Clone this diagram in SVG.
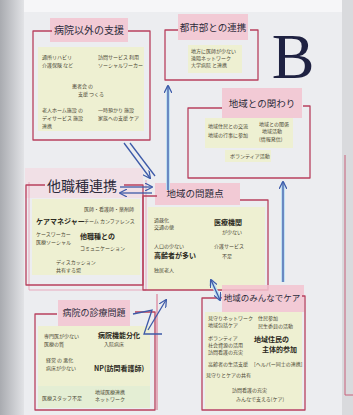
<svg xmlns="http://www.w3.org/2000/svg" width="353" height="415" viewBox="0 0 353 415">
<defs>
<linearGradient id="shade" x1="0" y1="0" x2="1" y2="0">
<stop offset="0" stop-color="#a9abb0"/>
<stop offset="1" stop-color="#e2e3e6"/>
</linearGradient>
<marker id="ah" viewBox="0 0 10 10" refX="9" refY="5" markerWidth="6" markerHeight="6" orient="auto-start-reverse">
<path d="M0,0 L10,5 L0,10" fill="none" stroke="#3d5aa8" stroke-width="1.6"/>
</marker>
<style>
.frame{fill:none;stroke:#b8405e;stroke-width:1.3;stroke-linejoin:round}
.frame2{fill:none;stroke:#e89ab0;stroke-width:1;opacity:.8}
.tag{fill:#f3c3d0;opacity:.85}
.note{fill:#eef0d2}
.note2{fill:#e4eed4}
.title{font-family:"Noto Sans CJK JP","Noto Sans",sans-serif;fill:#2c2a3a;text-anchor:middle}
.s{font-family:"Noto Sans CJK JP","Noto Sans",sans-serif;font-size:5px;fill:#4a4632}
.sb{font-family:"Noto Sans CJK JP","Noto Sans",sans-serif;font-size:7px;fill:#2a2820;font-weight:bold}
.con{fill:none;stroke:#3d5aa8;stroke-width:1.3}
.glow{fill:none;stroke:#bfe0f2;stroke-width:4}
</style>
</defs>
<rect width="353" height="415" fill="#e3e4e7"/>
<rect x="0" y="0" width="24" height="415" fill="url(#shade)"/>
<rect x="24" y="0" width="320" height="12" fill="#f6f6f8"/>
<rect x="24" y="12" width="318" height="403" fill="#ecedf0"/>
<rect x="342" y="0" width="11" height="415" fill="#d9dadd"/>
<path d="M345,155 L345,395 L353,395" fill="none" stroke="#c8607a" stroke-width="1"/>

<g id="node-byouin-igai">
<rect class="tag" x="50" y="18" width="78" height="24"/>
<rect class="note" x="38" y="47" width="106" height="84"/>
<path class="frame" d="M52,31 L33,31 L33,140 L150,140 L150,31 L128,31"/>
<text class="title" x="89" y="34" font-size="10">病院以外の支援</text>
<text class="s" x="42" y="59">通所リハビリ</text>
<text class="s" x="42" y="67">介護保険 など</text>
<text class="s" x="98" y="59">訪問サービス 利用</text>
<text class="s" x="98" y="67">ソーシャルワーカー</text>
<text class="s" x="72" y="88">患者会 の</text>
<text class="s" x="78" y="96">支援 つくる</text>
<text class="s" x="42" y="112">老人ホーム施設 の</text>
<text class="s" x="42" y="120">デイサービス 施設</text>
<text class="s" x="42" y="128">連携</text>
<text class="s" x="98" y="112">一時預かり 施設</text>
<text class="s" x="98" y="120">家族への支援 ケア</text>
</g>

<g id="node-toshibu">
<rect class="tag" x="178" y="14" width="70" height="26"/>
<rect class="note" x="188" y="45" width="54" height="28"/>
<path class="frame" d="M178,30 L165,30 L165,80 L258,80 L258,30 L250,30"/>
<text class="title" x="213" y="31" font-size="9.5">都市部との連携</text>
<text class="s" x="191" y="53">地方に医師が少ない</text>
<text class="s" x="191" y="60">遠隔ネットワーク</text>
<text class="s" x="191" y="67">大学病院 と連携</text>
</g>

<text x="293" y="78" font-family="Liberation Serif,serif" font-size="64" fill="#1f2242" text-anchor="middle">B</text>

<g id="node-chiiki-kakawari">
<rect class="tag" x="222" y="88" width="80" height="30"/>
<rect class="note" x="205" y="118" width="88" height="30"/>
<rect class="note" x="225" y="150" width="46" height="12"/>
<path class="frame" d="M222,108 L188,108 L188,178 L310,178 L310,106 L303,106"/>
<text class="title" x="262" y="107" font-size="9.5">地域との関わり</text>
<text class="s" x="208" y="128">地域住民との交流</text>
<text class="s" x="208" y="137" fill="#2a2820">地域の行事に参加</text>
<text class="s" x="259" y="126">地域との関係</text>
<text class="s" x="262" y="133">地域活動</text>
<text class="s" x="259" y="141">(情報発信)</text>
<text class="s" x="230" y="158">ボランティア活動</text>
</g>

<g id="node-tashokushu">
<rect x="25" y="168" width="118" height="30" fill="#f3dce3" opacity=".8"/>
<rect class="note" x="32" y="199" width="108" height="76"/>
<path class="frame2" d="M29,182 L29,290 L146,290 L146,180"/>
<path class="frame" d="M45,185 L26,185 L26,285 L143,285 L143,185 L124,185"/>
<text class="title" x="82" y="191" font-size="14">他職種連携</text>
<text class="s" x="84" y="211">医師・看護師・薬剤師</text>
<text class="sb" x="36" y="224" font-size="5.5">ケアマネジャー</text>
<text class="s" x="84" y="223">チーム カンファレンス</text>
<text class="s" x="36" y="236">ケースワーカー</text>
<text class="s" x="36" y="244">医療ソーシャル</text>
<text class="sb" x="80" y="239">他職種との</text>
<text class="s" x="80" y="250">コミュニケーション</text>
<text class="s" x="56" y="264">ディスカッション</text>
<text class="s" x="56" y="272">共有する場</text>
</g>

<g id="node-mondaiten">
<rect class="tag" x="155" y="183" width="85" height="22"/>
<rect class="note" x="148" y="207" width="117" height="83"/>
<path class="frame" d="M157,196 L143,196 L143,290 L268,290 L268,200 L240,200"/>
<text class="title" x="195" y="197" font-size="9.5">地域の問題点</text>
<text class="s" x="154" y="222">過疎化</text>
<text class="s" x="154" y="229">交通の便</text>
<text class="sb" x="214" y="225" font-size="6">医療機関</text>
<text class="s" x="222" y="234">が少ない</text>
<text class="s" x="154" y="248">人口の少ない</text>
<text class="sb" x="154" y="258" font-size="6">高齢者が多い</text>
<text class="s" x="214" y="248">介護サービス</text>
<text class="s" x="222" y="258">不足</text>
<text class="s" x="154" y="272">独居老人</text>
</g>

<g id="node-minna-care">
<rect class="tag" x="222" y="285" width="82" height="27"/>
<rect class="note" x="205" y="312" width="97" height="97"/>
<path class="frame" d="M222,298 L202,298 L202,410 L305,410 L305,296 L302,296"/>
<text class="title" x="262" y="301" font-size="8.5">地域のみんなでケア</text>
<text class="s" x="208" y="320">見守りネットワーク</text>
<text class="s" x="208" y="327">地域包括ケア</text>
<text class="s" x="258" y="320">住民参加</text>
<text class="s" x="258" y="328">民生委員の活動</text>
<text class="s" x="208" y="340">ボランティア</text>
<text class="s" x="208" y="347">社会資源の活用</text>
<text class="s" x="208" y="354">訪問看護の充実</text>
<text class="sb" x="254" y="342" font-size="6">地域住民の</text>
<text class="sb" x="262" y="352" font-size="6">主体的参加</text>
<text class="s" x="208" y="366">高齢者の生活支援</text>
<text class="s" x="254" y="366">[ヘルパー同士の連携]</text>
<text class="s" x="206" y="377">見守りとケアの共有</text>
<text class="s" x="232" y="392">訪問看護の充実</text>
<text class="s" x="236" y="401">みんなで支える(ケア)</text>
</g>

<g id="node-shinryou">
<rect class="tag" x="58" y="300" width="72" height="26"/>
<rect class="note" x="38" y="326" width="112" height="60"/>
<rect class="note2" x="38" y="386" width="112" height="22"/>
<path class="frame" d="M57,314 L35,314 L35,410 L155,410 L155,312 L135,312"/>
<path d="M157,294 L157,410" fill="none" stroke="#d86a88" stroke-width="1"/>
<text class="title" x="94" y="316" font-size="9">病院の診療問題</text>
<text class="s" x="44" y="338">専門医が少ない</text>
<text class="s" x="44" y="346">医療の質</text>
<text class="sb" x="98" y="338" font-size="5.5">病院機能分化</text>
<text class="s" x="104" y="346">入院病床</text>
<text class="s" x="46" y="362">経営 の 悪化</text>
<text class="s" x="46" y="370">病床が少ない</text>
<text class="sb" x="94" y="371" font-size="7.5">NP(訪問看護師)</text>
<text class="s" x="42" y="400">医療スタッフ不足</text>
<text class="s" x="95" y="394">地域医療連携</text>
<text class="s" x="95" y="401">ネットワーク</text>
</g>

<g id="connectors">
<path class="glow" d="M168,190 L168,86"/>
<path class="con" d="M168,190 L168,86" marker-end="url(#ah)"/>
<path class="glow" d="M283,282 L283,182"/>
<path class="con" d="M283,282 L283,182" marker-end="url(#ah)"/>
<path class="con" d="M124,143 L150,178" marker-end="url(#ah)"/>
<path class="con" d="M130,143 L155,176"/>
<path class="con" d="M120,187 L152,187" marker-end="url(#ah)"/>
<path class="con" d="M152,193 L120,193" marker-end="url(#ah)"/>
<path class="glow" d="M211,280 L220,300"/>
<path class="con" d="M211,280 L220,300" marker-start="url(#ah)" marker-end="url(#ah)"/>
<path class="con" d="M133,314 L152,310 L144,334 L162,334"/>
<path class="con" d="M148,330 L166,300" marker-end="url(#ah)"/>
</g>
</svg>
